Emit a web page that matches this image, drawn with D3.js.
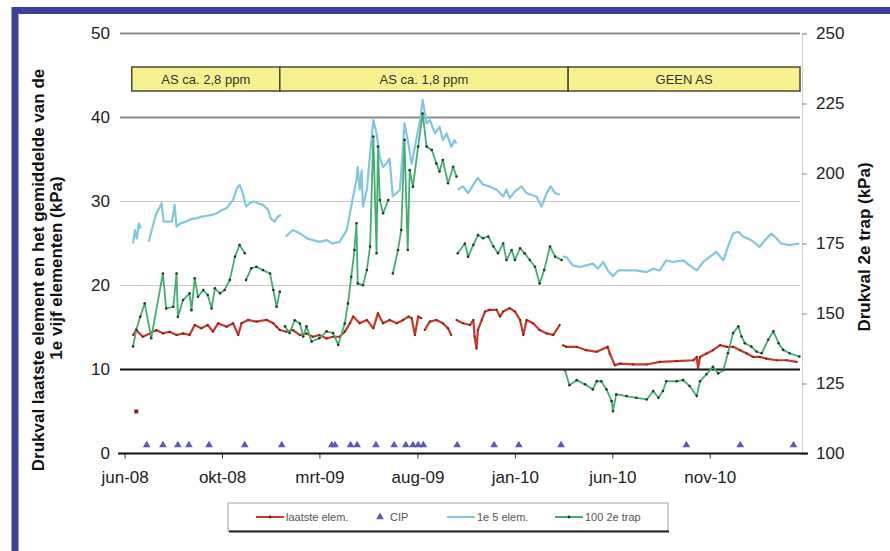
<!DOCTYPE html>
<html>
<head>
<meta charset="utf-8">
<script src="https://cdnjs.cloudflare.com/ajax/libs/d3/7.8.5/d3.min.js"></script>
<style>
    body { margin: 0; background: #fff; }
    #chart svg { display: block; font-family: "Liberation Sans", Arial, sans-serif; }
    .axis text { font-size: 17px; fill: #222; }
    .axis-title { font-size: 17px; font-weight: bold; fill: #111; }
    .band-label { font-size: 13px; fill: #333; }
    .legend-label { font-size: 11px; fill: #555; }
</style>
</head>
<body>
<div id="chart"></div>
<script>
'use strict';

// x-as: labels elke 150 dagen
const xTickDates = ['2008-06-01', '2008-10-29', '2009-03-28', '2009-08-26', '2010-01-23', '2010-06-22', '2010-11-19'];
const xTickLabels = ['jun-08', 'okt-08', 'mrt-09', 'aug-09', 'jan-10', 'jun-10', 'nov-10'];
const leftTicks = [0, 10, 20, 30, 40, 50];
const rightTicks = [100, 125, 150, 175, 200, 225, 250];

const periodStarts = ['2008-06-12', '2009-01-26', '2010-04-15'];
const periodEnds = ['2009-01-26', '2010-04-15', '2011-04-07'];
const periodLabels = ['AS ca. 2,8 ppm', 'AS ca. 1,8 ppm', 'GEEN AS'];

const legendLabels = ['laatste elem.', 'CIP', '1e 5 elem.', '100 2e trap'];

// drukval laatste element (kPa), null = onderbreking
const laatsteElem = [
    ['2008-06-14', 14.1], ['2008-06-19', 14.7], ['2008-06-29', 13.9], ['2008-07-10', 14.3], ['2008-07-20', 14.7],
    ['2008-07-30', 14.3], ['2008-08-09', 14.5], ['2008-08-20', 14.1], ['2008-08-30', 14.3], ['2008-09-09', 14.1],
    ['2008-09-17', 15.3], ['2008-09-27', 14.9], ['2008-10-07', 15.3], ['2008-10-15', 14.5], ['2008-10-23', 15.5],
    ['2008-11-05', 15.1], ['2008-11-15', 15.5], ['2008-11-23', 14.1], ['2008-11-28', 15.5], ['2008-12-08', 15.9],
    ['2008-12-21', 15.7], ['2009-01-06', 15.9], ['2009-01-16', 15.5], ['2009-01-21', 15.1], ['2009-01-26', 14.7],
    ['2009-02-05', 14.5], ['2009-02-15', 14.7], ['2009-02-26', 14.1], ['2009-03-08', 14.3], ['2009-03-18', 13.9],
    ['2009-03-28', 14.1], ['2009-04-08', 13.7], ['2009-04-18', 13.9], ['2009-04-28', 13.9], ['2009-05-06', 14.5],
    ['2009-05-14', 15.5], ['2009-05-19', 16.3], ['2009-05-29', 15.5], ['2009-06-09', 15.9], ['2009-06-19', 14.9],
    ['2009-06-26', 16.7], ['2009-07-04', 15.5], ['2009-07-14', 15.9], ['2009-07-25', 15.5], ['2009-08-04', 15.9],
    ['2009-08-12', 16.3], ['2009-08-17', 16.1], ['2009-08-22', 14.1], ['2009-08-27', 16.3], ['2009-09-01', 16.1],
    ['2009-09-03', null],
    ['2009-09-06', 14.7], ['2009-09-14', 15.7], ['2009-09-24', 15.9], ['2009-10-04', 15.5], ['2009-10-12', 14.9],
    ['2009-10-17', 14.1],
    ['2009-10-21', null],
    ['2009-10-25', 15.9], ['2009-11-04', 15.5], ['2009-11-15', 15.3], ['2009-11-20', 15.9], ['2009-11-22', 13.9],
    ['2009-11-25', 12.5], ['2009-11-27', 14.7], ['2009-12-03', 15.9], ['2009-12-08', 16.9], ['2009-12-15', 17.1],
    ['2009-12-26', 17.1], ['2009-12-31', 16.3], ['2010-01-05', 16.9], ['2010-01-15', 17.3], ['2010-01-23', 16.9],
    ['2010-01-31', 15.9], ['2010-02-05', 14.1], ['2010-02-10', 15.9], ['2010-02-20', 15.5], ['2010-03-02', 14.7],
    ['2010-03-13', 14.3], ['2010-03-23', 14.1], ['2010-04-02', 15.3],
    ['2010-04-05', null],
    ['2010-04-07', 12.9], ['2010-04-12', 12.7], ['2010-04-28', 12.7], ['2010-05-13', 12.3], ['2010-05-29', 12.1],
    ['2010-06-15', 12.7], ['2010-06-18', 11.9], ['2010-06-26', 10.5], ['2010-07-04', 10.7], ['2010-07-24', 10.6],
    ['2010-08-14', 10.6], ['2010-09-03', 10.9], ['2010-09-29', 11.0], ['2010-10-25', 11.1], ['2010-10-30', 11.5],
    ['2010-11-01', 10.1], ['2010-11-04', 11.5], ['2010-11-14', 11.9], ['2010-11-24', 12.3], ['2010-12-05', 12.9],
    ['2010-12-15', 12.7], ['2010-12-25', 12.7], ['2011-01-05', 12.3], ['2011-01-15', 11.9], ['2011-01-25', 11.5],
    ['2011-02-04', 11.5], ['2011-02-14', 11.3], ['2011-03-02', 11.1], ['2011-03-17', 11.1], ['2011-04-02', 10.9]
];
const losseMeting = [['2008-06-19', 5.0]];

// gemiddelde drukval 1e vijf elementen (kPa)
const eersteVijf = [
    ['2008-06-14', 25.0], ['2008-06-17', 26.6], ['2008-06-20', 25.6], ['2008-06-23', 27.4], ['2008-06-26', 26.8],
    ['2008-07-01', null],
    ['2008-07-08', 25.2], ['2008-07-19', 28.4], ['2008-07-28', 29.8], ['2008-07-31', 27.6], ['2008-08-13', 27.6],
    ['2008-08-17', 29.6], ['2008-08-20', 27.0], ['2008-08-26', 27.4], ['2008-09-03', 27.6], ['2008-09-11', 27.9],
    ['2008-09-20', 28.0], ['2008-09-28', 28.2], ['2008-10-06', 28.3], ['2008-10-13', 28.4], ['2008-10-21', 28.6],
    ['2008-10-29', 29.0], ['2008-11-05', 29.2], ['2008-11-15', 30.2], ['2008-11-21', 31.6], ['2008-11-25', 32.0],
    ['2008-11-30', 31.0], ['2008-12-05', 29.4], ['2008-12-11', 29.8], ['2008-12-17', 30.0], ['2008-12-23', 29.8],
    ['2008-12-31', 29.6], ['2009-01-08', 29.0], ['2009-01-12', 28.0], ['2009-01-18', 27.6], ['2009-01-23', 28.2],
    ['2009-01-28', 28.4],
    ['2009-01-31', null],
    ['2009-02-04', 25.8], ['2009-02-15', 26.6], ['2009-02-26', 26.2], ['2009-03-09', 25.6], ['2009-03-18', 25.4],
    ['2009-03-28', 25.2], ['2009-04-08', 25.4], ['2009-04-17', 25.0], ['2009-04-28', 25.2], ['2009-05-09', 26.6],
    ['2009-05-16', 29.4], ['2009-05-24', 32.6], ['2009-05-26', 34.1], ['2009-05-29', 31.4], ['2009-06-01', 33.7],
    ['2009-06-03', 29.4], ['2009-06-09', 31.4], ['2009-06-16', 37.3], ['2009-06-19', 39.7], ['2009-06-24', 38.1],
    ['2009-06-29', 35.3], ['2009-07-04', 34.1], ['2009-07-09', 34.5], ['2009-07-14', 35.1], ['2009-07-19', 30.6],
    ['2009-07-30', 31.4], ['2009-08-06', 39.3], ['2009-08-11', 37.3], ['2009-08-17', 34.5], ['2009-08-22', 36.5],
    ['2009-08-30', 39.7], ['2009-09-03', 42.1], ['2009-09-09', 39.3], ['2009-09-14', 39.7], ['2009-09-22', 38.1],
    ['2009-09-29', 38.9], ['2009-10-04', 37.3], ['2009-10-10', 38.1], ['2009-10-17', 36.5], ['2009-10-22', 37.3],
    ['2009-10-25', 36.9],
    ['2009-10-26', null],
    ['2009-10-27', 31.4], ['2009-11-04', 31.8], ['2009-11-12', 31.0], ['2009-11-20', 32.0], ['2009-11-27', 32.8],
    ['2009-12-05', 32.0], ['2009-12-15', 31.8], ['2009-12-26', 31.4], ['2010-01-05', 30.6], ['2010-01-10', 31.4],
    ['2010-01-15', 30.4], ['2010-01-23', 31.2], ['2010-02-02', 31.8], ['2010-02-10', 31.0], ['2010-02-17', 30.8],
    ['2010-02-25', 30.6], ['2010-03-05', 29.4], ['2010-03-13', 31.0], ['2010-03-19', 31.8], ['2010-03-26', 31.0],
    ['2010-04-02', 30.8],
    ['2010-04-05', null],
    ['2010-04-07', 23.4], ['2010-04-12', 23.4], ['2010-04-22', 22.4], ['2010-05-03', 22.2], ['2010-05-13', 22.4],
    ['2010-05-23', 22.6], ['2010-05-31', 22.0], ['2010-06-08', 22.8], ['2010-06-15', 21.8], ['2010-06-23', 21.1],
    ['2010-07-01', 21.8], ['2010-07-14', 21.8], ['2010-07-29', 21.8], ['2010-08-14', 21.6], ['2010-08-24', 22.0],
    ['2010-09-03', 21.8], ['2010-09-13', 23.0], ['2010-09-23', 22.8], ['2010-10-09', 23.0], ['2010-10-19', 22.4],
    ['2010-10-30', 21.8], ['2010-11-09', 22.8], ['2010-11-19', 23.4], ['2010-11-29', 24.0], ['2010-12-10', 23.0],
    ['2010-12-17', 24.6], ['2010-12-25', 26.2], ['2011-01-02', 26.4], ['2011-01-10', 25.8], ['2011-01-22', 25.4],
    ['2011-02-04', 24.6], ['2011-02-12', 25.4], ['2011-02-22', 26.2], ['2011-03-02', 25.6], ['2011-03-09', 25.0],
    ['2011-03-22', 24.8], ['2011-04-06', 25.0]
];

// drukval 2e trap (kPa, rechter as)
const tweedeTrap = [
    ['2008-06-14', 138.2], ['2008-06-19', 144.2], ['2008-06-25', 148.8], ['2008-07-02', 153.6], ['2008-07-12', 141.2],
    ['2008-07-30', 164.3], ['2008-08-04', 151.8], ['2008-08-15', 152.4], ['2008-08-20', 164.3], ['2008-08-22', 148.8],
    ['2008-08-30', 154.8], ['2008-09-09', 157.2], ['2008-09-12', 151.2], ['2008-09-17', 162.6], ['2008-09-22', 156.0],
    ['2008-09-30', 158.4], ['2008-10-07', 156.6], ['2008-10-13', 151.8], ['2008-10-18', 159.0], ['2008-10-26', 157.2],
    ['2008-11-02', 158.4], ['2008-11-10', 162.0], ['2008-11-18', 170.3], ['2008-11-25', 174.5], ['2008-12-03', 171.5],
    ['2008-12-04', null],
    ['2008-12-05', 162.0], ['2008-12-13', 166.1], ['2008-12-21', 166.7], ['2008-12-31', 165.5], ['2009-01-11', 164.3],
    ['2009-01-16', 158.4], ['2009-01-21', 152.4], ['2009-01-26', 157.8],
    ['2009-01-30', null],
    ['2009-02-03', 145.4], ['2009-02-10', 143.0], ['2009-02-18', 147.6], ['2009-02-26', 146.4], ['2009-03-03', 141.8],
    ['2009-03-08', 145.4], ['2009-03-16', 140.0], ['2009-03-28', 141.2], ['2009-04-08', 143.6], ['2009-04-18', 143.0],
    ['2009-04-26', 138.8], ['2009-05-06', 146.4], ['2009-05-11', 153.6], ['2009-05-16', 163.1], ['2009-05-21', 172.7],
    ['2009-05-24', 182.2], ['2009-05-26', 160.7], ['2009-06-03', 160.1], ['2009-06-09', 165.5], ['2009-06-14', 173.9],
    ['2009-06-19', 213.2], ['2009-06-24', 171.5], ['2009-06-26', 209.6], ['2009-06-29', 190.5], ['2009-07-04', 185.8],
    ['2009-07-12', 190.5],
    ['2009-07-15', null],
    ['2009-07-19', 164.3], ['2009-07-27', 172.7], ['2009-08-01', 179.8], ['2009-08-06', 212.0], ['2009-08-11', 172.7],
    ['2009-08-14', 201.2], ['2009-08-19', 195.3], ['2009-08-27', 209.6], ['2009-09-03', 221.4], ['2009-09-09', 209.6],
    ['2009-09-17', 208.4], ['2009-09-24', 203.6], ['2009-09-29', 200.7], ['2009-10-04', 204.8], ['2009-10-12', 196.5],
    ['2009-10-20', 202.4], ['2009-10-25', 198.9],
    ['2009-10-26', null],
    ['2009-10-27', 171.5], ['2009-11-07', 175.0], ['2009-11-12', 170.3], ['2009-11-20', 174.5], ['2009-11-27', 178.0],
    ['2009-12-05', 176.9], ['2009-12-13', 177.5], ['2009-12-21', 173.9], ['2009-12-28', 171.5], ['2010-01-05', 175.0],
    ['2010-01-10', 169.1], ['2010-01-18', 172.7], ['2010-01-23', 169.1], ['2010-01-31', 173.3], ['2010-02-07', 171.5],
    ['2010-02-15', 169.1], ['2010-02-23', 166.7], ['2010-03-02', 160.7], ['2010-03-09', 165.5], ['2010-03-18', 173.9],
    ['2010-03-26', 170.3], ['2010-04-05', 169.1],
    ['2010-04-07', null],
    ['2010-04-10', 129.8], ['2010-04-17', 124.4], ['2010-04-28', 126.2], ['2010-05-11', 124.7], ['2010-05-23', 122.9],
    ['2010-05-29', 125.8], ['2010-06-05', 125.8], ['2010-06-13', 122.9], ['2010-06-21', 118.7], ['2010-06-23', 115.1],
    ['2010-06-28', 121.1], ['2010-07-14', 120.5], ['2010-07-29', 119.9], ['2010-08-14', 119.3], ['2010-08-24', 122.3],
    ['2010-09-01', 119.9], ['2010-09-08', 122.3], ['2010-09-13', 125.8], ['2010-09-29', 125.8], ['2010-10-09', 126.2],
    ['2010-10-19', 124.1], ['2010-10-30', 120.5], ['2010-11-04', 125.8], ['2010-11-14', 128.3], ['2010-11-24', 131.0],
    ['2010-12-02', 128.6], ['2010-12-10', 129.8], ['2010-12-17', 135.8], ['2010-12-25', 143.0], ['2011-01-02', 145.4],
    ['2011-01-07', 141.8], ['2011-01-12', 139.4], ['2011-01-22', 138.2], ['2011-01-30', 136.4], ['2011-02-07', 135.8],
    ['2011-02-17', 140.6], ['2011-02-25', 143.6], ['2011-03-05', 139.4], ['2011-03-12', 137.0], ['2011-03-22', 135.8],
    ['2011-04-06', 134.6]
];

// CIP reinigingen
const cipDates = [
    '2008-07-05', '2008-07-30', '2008-08-22', '2008-09-08', '2008-10-09', '2008-12-03', '2009-01-29',
    '2009-04-16', '2009-04-21', '2009-05-15', '2009-05-25', '2009-06-23', '2009-07-21', '2009-08-08',
    '2009-08-19', '2009-08-27', '2009-09-04', '2009-10-26', '2009-12-22', '2010-01-29', '2010-04-04',
    '2010-10-14', '2011-01-05', '2011-03-28'
];
const cipLevel = 1;

class DrukvalChart {
    constructor(divId, width, height, options) {

        options = this.handleOptions(options);

        this.width = width;
        this.height = height;

        this.svg = d3.select('#' + divId).append('svg')
            .attr('width', width)
            .attr('height', height);

        this.options = options;

        this.init();
    }

    handleOptions(options) {
        if (!options) {
            options = {};
        }

        if (!options.plot) {
            options.plot = { left: 122, right: 800, top: 33.5, bottom: 453.5 };
        }

        if (!options.colors) {
            options.colors = { red: '#c8372b', blue: '#82c7e0', green: '#44ad70', cip: '#5b5bb5' };
        }

        return options;
    }

    init() {
        let plot = this.options.plot;
        let parse = d3.timeParse('%Y-%m-%d');
        this.parse = parse;

        this.x = d3.scaleTime()
            .domain([parse('2008-05-28'), parse('2011-04-07')])
            .range([plot.left, plot.right]);

        this.yLeft = d3.scaleLinear().domain([0, 50]).range([plot.bottom, plot.top]);
        this.yRight = d3.scaleLinear().domain([100, 250]).range([plot.bottom, plot.top]);
    }

    toSeries(rows) {
        let parse = this.parse;
        return rows.map(function (r) {
            return { date: parse(r[0]), value: r[1] };
        });
    }

    setData() {
        this.red = this.toSeries(laatsteElem);
        this.blue = this.toSeries(eersteVijf);
        this.green = this.toSeries(tweedeTrap);
        this.single = this.toSeries(losseMeting);
        let parse = this.parse;
        this.cip = cipDates.map(function (d) { return parse(d); });
    }

    renderFrame() {
        this.svg.append('rect')
            .attr('x', 15)
            .attr('y', 10.5)
            .attr('width', 1000)
            .attr('height', 1000)
            .style('fill', 'none')
            .style('stroke', '#3b409c')
            .style('stroke-width', 7);
    }

    renderGrid() {
        let self = this;
        let plot = self.options.plot;

        self.svg.selectAll('.grid')
            .data(leftTicks.filter(function (d) { return d > 0; }))
            .enter().append('line')
            .attr('class', 'grid')
            .attr('x1', plot.left - 2)
            .attr('x2', plot.right)
            .attr('y1', function (d) { return self.yLeft(d); })
            .attr('y2', function (d) { return self.yLeft(d); })
            .style('stroke', function (d) {
                if (d === 10) return '#111';
                return d >= 40 ? '#8c8c8c' : '#c6c6c6';
            })
            .style('stroke-width', function (d) {
                return (d === 10 || d >= 40) ? 2 : 1.2;
            });
    }

    renderBands() {
        let self = this;
        let parse = self.parse;
        let bandTop = 67, bandBottom = 91;

        let g = self.svg.append('g').attr('class', 'bands');

        g.selectAll('rect')
            .data(periodLabels)
            .enter().append('rect')
            .attr('x', function (d, i) { return self.x(parse(periodStarts[i])); })
            .attr('y', bandTop)
            .attr('width', function (d, i) { return self.x(parse(periodEnds[i])) - self.x(parse(periodStarts[i])); })
            .attr('height', bandBottom - bandTop)
            .style('fill', '#f6f290')
            .style('stroke', '#4b4b3c')
            .style('stroke-width', 1.5);

        g.selectAll('text')
            .data(periodLabels)
            .enter().append('text')
            .attr('class', 'band-label')
            .attr('x', function (d, i) { return (self.x(parse(periodStarts[i])) + self.x(parse(periodEnds[i]))) / 2; })
            .attr('y', (bandTop + bandBottom) / 2)
            .attr('dy', '0.35em')
            .style('text-anchor', 'middle')
            .text(function (d) { return d; });
    }

    renderAxis() {
        let self = this;
        let plot = self.options.plot;
        let parse = self.parse;

        let left = self.svg.append('g')
            .attr('class', 'axis')
            .attr('transform', 'translate(' + (plot.left - 2) + ',0)')
            .call(d3.axisLeft(self.yLeft).tickValues(leftTicks).tickSize(0).tickPadding(10));
        left.select('.domain').remove();

        let right = self.svg.append('g')
            .attr('class', 'axis')
            .attr('transform', 'translate(' + (plot.right + 2) + ',0)')
            .call(d3.axisRight(self.yRight).tickValues(rightTicks).tickSize(5).tickPadding(9));
        right.select('.domain').style('stroke', '#cfcfcf');
        right.selectAll('.tick line').style('stroke', '#888');

        let bottom = self.svg.append('g')
            .attr('class', 'axis')
            .attr('transform', 'translate(0,' + plot.bottom + ')')
            .call(d3.axisBottom(self.x)
                .tickValues(xTickDates.map(function (d) { return parse(d); }))
                .tickFormat(function (d, i) { return xTickLabels[i]; })
                .tickSize(5)
                .tickPadding(12));
        bottom.select('.domain').remove();
        bottom.selectAll('.tick line').style('stroke', '#333');

        self.svg.append('line')
            .attr('x1', plot.left - 4)
            .attr('x2', plot.right + 8)
            .attr('y1', plot.bottom)
            .attr('y2', plot.bottom)
            .style('stroke', '#111')
            .style('stroke-width', 2);

        // titels
        self.svg.append('text')
            .attr('class', 'axis-title')
            .attr('transform', 'translate(38,270) rotate(-90)')
            .attr('dy', '0.35em')
            .style('text-anchor', 'middle')
            .text('Drukval laatste element en het gemiddelde van de');

        self.svg.append('text')
            .attr('class', 'axis-title')
            .attr('transform', 'translate(56,268) rotate(-90)')
            .attr('dy', '0.35em')
            .style('text-anchor', 'middle')
            .text('1e vijf elementen (kPa)');

        self.svg.append('text')
            .attr('class', 'axis-title')
            .attr('transform', 'translate(864,247) rotate(-90)')
            .attr('dy', '0.35em')
            .style('text-anchor', 'middle')
            .text('Drukval 2e trap (kPa)');
    }

    renderSeries() {
        let self = this;
        let colors = self.options.colors;

        let lineFor = function (scale) {
            return d3.line()
                .defined(function (d) { return d.value !== null; })
                .x(function (d) { return self.x(d.date); })
                .y(function (d) { return scale(d.value); });
        };

        self.svg.append('path')
            .datum(self.blue)
            .attr('d', lineFor(self.yLeft))
            .style('fill', 'none')
            .style('stroke', colors.blue)
            .style('stroke-width', 2.2)
            .style('stroke-linejoin', 'round');

        self.svg.append('path')
            .datum(self.red)
            .attr('d', lineFor(self.yLeft))
            .style('fill', 'none')
            .style('stroke', colors.red)
            .style('stroke-width', 2.2)
            .style('stroke-linejoin', 'round');

        self.svg.selectAll('.red-dot')
            .data(self.red.filter(function (d) { return d.value !== null; }))
            .enter().append('circle')
            .attr('class', 'red-dot')
            .attr('cx', function (d) { return self.x(d.date); })
            .attr('cy', function (d) { return self.yLeft(d.value); })
            .attr('r', 1)
            .style('fill', '#6a1c14');

        self.svg.selectAll('.single')
            .data(self.single)
            .enter().append('rect')
            .attr('class', 'single')
            .attr('x', function (d) { return self.x(d.date) - 2; })
            .attr('y', function (d) { return self.yLeft(d.value) - 2; })
            .attr('width', 4)
            .attr('height', 4)
            .style('fill', '#8a1e1e');

        self.svg.append('path')
            .datum(self.green)
            .attr('d', lineFor(self.yRight))
            .style('fill', 'none')
            .style('stroke', colors.green)
            .style('stroke-width', 1.8)
            .style('stroke-linejoin', 'round');

        self.svg.selectAll('.green-dot')
            .data(self.green.filter(function (d) { return d.value !== null; }))
            .enter().append('circle')
            .attr('class', 'green-dot')
            .attr('cx', function (d) { return self.x(d.date); })
            .attr('cy', function (d) { return self.yRight(d.value); })
            .attr('r', 1.3)
            .style('fill', '#1f3a28');

        self.svg.selectAll('.cip')
            .data(self.cip)
            .enter().append('path')
            .attr('class', 'cip')
            .attr('d', d3.symbol().type(d3.symbolTriangle).size(26))
            .attr('transform', function (d) {
                return 'translate(' + self.x(d) + ',' + self.yLeft(cipLevel) + ')';
            })
            .style('fill', colors.cip);
    }

    renderLegend() {
        let colors = this.options.colors;
        let g = this.svg.append('g').attr('class', 'legend');
        let top = 503, bottom = 531, cy = 517;

        g.append('rect')
            .attr('x', 228)
            .attr('y', top)
            .attr('width', 440)
            .attr('height', bottom - top)
            .style('fill', '#fff')
            .style('stroke', '#a0a0a0')
            .style('stroke-width', 1);

        g.append('line')
            .attr('x1', 229).attr('x2', 669)
            .attr('y1', bottom + 0.5).attr('y2', bottom + 0.5)
            .style('stroke', '#222')
            .style('stroke-width', 2);

        let items = [
            { kind: 'line', color: colors.red, x: 256, dot: '#6a1c14' },
            { kind: 'tri', color: colors.cip, x: 380 },
            { kind: 'line', color: colors.blue, x: 447 },
            { kind: 'line', color: colors.green, x: 555, dot: '#1f3a28' }
        ];

        items.forEach(function (it, i) {
            let textX;
            if (it.kind === 'line') {
                g.append('line')
                    .attr('x1', it.x).attr('x2', it.x + 28)
                    .attr('y1', cy).attr('y2', cy)
                    .style('stroke', it.color)
                    .style('stroke-width', 2);
                if (it.dot) {
                    g.append('circle')
                        .attr('cx', it.x + 14).attr('cy', cy).attr('r', 1.4)
                        .style('fill', it.dot);
                }
                textX = it.x + 30;
            } else {
                g.append('path')
                    .attr('d', d3.symbol().type(d3.symbolTriangle).size(26))
                    .attr('transform', 'translate(' + it.x + ',' + cy + ')')
                    .style('fill', it.color);
                textX = it.x + 10;
            }
            g.append('text')
                .attr('class', 'legend-label')
                .attr('x', textX)
                .attr('y', cy)
                .attr('dy', '0.35em')
                .text(legendLabels[i]);
        });
    }

    render() {
        this.renderFrame();
        this.renderGrid();
        this.renderBands();
        this.renderAxis();
        this.renderSeries();
        this.renderLegend();
    }
}

let chart = new DrukvalChart('chart', 890, 551);
chart.setData();
chart.render();
</script>
</body>
</html>
